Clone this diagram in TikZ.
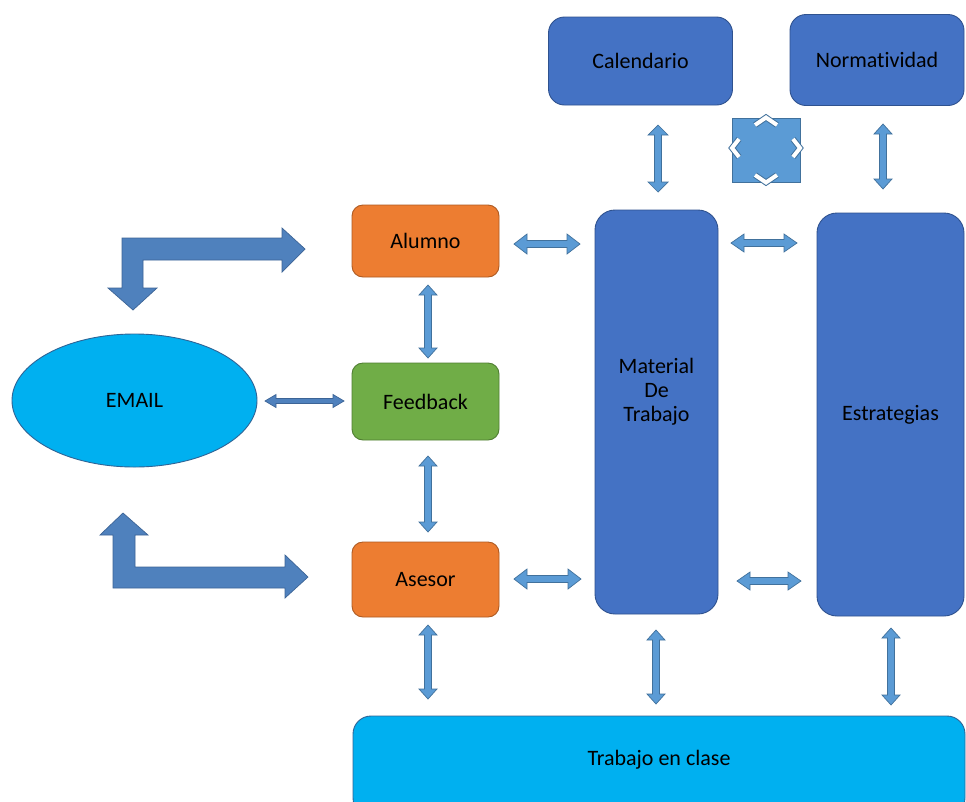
\documentclass[tikz,border=0pt]{standalone}
\usepackage{fontspec}
\setmainfont{Carlito}[Ligatures={NoCommon}]
\usetikzlibrary{calc,shapes.geometric}
\definecolor{dkblue}{RGB}{68,114,196}
\definecolor{dkblueline}{RGB}{47,82,143}
\definecolor{orng}{RGB}{237,125,49}
\definecolor{orngline}{RGB}{174,90,33}
\definecolor{grn}{RGB}{112,173,71}
\definecolor{grnline}{RGB}{80,126,50}
\definecolor{ltblue}{RGB}{0,176,240}
\definecolor{ltblueline}{RGB}{47,100,150}
\definecolor{arrfill}{RGB}{91,155,213}
\definecolor{arrline}{RGB}{65,113,156}
\definecolor{bentfill}{RGB}{79,129,189}
\definecolor{bentline}{RGB}{60,100,150}
\tikzset{
  box/.style={rectangle, rounded corners=#1, line width=0.9pt, inner sep=0pt, font=\fontsize{22}{25}\selectfont, text=black},
  dbox/.style={box=16pt, fill=dkblue, draw=dkblueline},
  obox/.style={box=11pt, fill=orng, draw=orngline},
  gbox/.style={box=11pt, fill=grn, draw=grnline},
  lbox/.style={box=18pt, fill=ltblue, draw=ltblueline},
  dblarrow/.style={fill=arrfill, draw=arrline, line width=0.7pt, line join=miter},
  darkarrow/.style={fill=bentfill, draw=bentline},
  bent/.style={fill=bentfill, draw=bentline, line width=0.7pt, line join=miter},
  lbl/.style={font=\fontsize{22}{24}\selectfont, text=black, align=center, inner sep=0pt}
}
% horizontal block double arrow: [style]{from}{to}{head length}{head half}{shaft half}
\newcommand{\harr}[6][]{\draw[dblarrow,#1] let \p1=(#2), \p2=(#3) in
  (\x1,\y1) -- (\x1+#4pt,\y1+#5pt) -- (\x1+#4pt,\y1+#6pt) -- (\x2-#4pt,\y2+#6pt) -- (\x2-#4pt,\y2+#5pt) -- (\x2,\y2)
  -- (\x2-#4pt,\y2-#5pt) -- (\x2-#4pt,\y2-#6pt) -- (\x1+#4pt,\y1-#6pt) -- (\x1+#4pt,\y1-#5pt) -- cycle;}
% vertical block double arrow (from = top, to = bottom)
\newcommand{\varr}[6][]{\draw[dblarrow,#1] let \p1=(#2), \p2=(#3) in
  (\x1,\y1) -- (\x1+#5pt,\y1-#4pt) -- (\x1+#6pt,\y1-#4pt) -- (\x2+#6pt,\y2+#4pt) -- (\x2+#5pt,\y2+#4pt) -- (\x2,\y2)
  -- (\x2-#5pt,\y2+#4pt) -- (\x2-#6pt,\y2+#4pt) -- (\x1-#6pt,\y1-#4pt) -- (\x1-#5pt,\y1-#4pt) -- cycle;}
\begin{document}
\begin{tikzpicture}[x=1pt,y=-1pt]
\useasboundingbox (0,0) rectangle (966,801);
\clip (0,0) rectangle (966,801);
\fill[white] (0,0) rectangle (966,801);

% nodes
\node[dbox, minimum width=184pt, minimum height=88pt] (cal) at (640.5,61) {Calendario};
\node[dbox, minimum width=174pt, minimum height=91pt] (norm) at (877,60) {Normatividad};
\node[obox, minimum width=147pt, minimum height=72pt] (alumno) at (425.5,241) {Alumno};
\node[gbox, minimum width=147pt, minimum height=77pt] (feedback) at (425.5,401.5) {Feedback};
\node[obox, minimum width=147pt, minimum height=75pt] (asesor) at (425.5,579.5) {Asesor};
\node[dbox, box=20pt, fill=dkblue, draw=dkblueline, minimum width=123pt, minimum height=404pt] (material) at (656.5,412) {};
\node[lbl] (matlbl) at (656.5,392) {Material\\De\\Trabajo};
\node[dbox, box=20pt, fill=dkblue, draw=dkblueline, minimum width=147pt, minimum height=403pt] (estr) at (890.5,414.5) {Estrategias};
\node[lbox, minimum width=612pt, minimum height=100pt] (trabajo) at (659,766) {};
\node[lbl] (trablbl) at (659,760) {Trabajo en clase};
\node[ellipse, fill=ltblue, draw=ltblueline, line width=0.9pt, minimum width=245pt, minimum height=133pt, inner sep=0pt, font=\fontsize{22}{25}\selectfont] (email) at (134.5,400.5) {EMAIL};

% four-way icon
\node[rectangle, fill=arrfill, draw=arrline, line width=0.9pt, minimum width=68pt, minimum height=64pt, inner sep=0pt] (quad) at (766,150) {};
\foreach \pts in {{(755,125)--(766,117.5)--(777,125)},{(755,175)--(766,182.5)--(777,175)},{(739,139)--(732,148)--(739,157)},{(793,139)--(800,148)--(793,157)}}{
  \draw[arrline, line width=6pt, line join=miter] \pts;
  \draw[white, line width=4pt, line join=miter] \pts;
}

% bent arrows
\draw[bent] (122,288) -- (108,288) -- (133,310) -- (157,288) -- (143,288) -- (143,260) -- (282,260) -- (282,272) -- (305,249) -- (282,228) -- (282,238) -- (122,238) -- cycle;
\draw[bent] (113,588) -- (113,535) -- (100,535) -- (123,513) -- (148,535) -- (135,535) -- (135,567) -- (285,567) -- (285,555) -- (308,577) -- (285,598) -- (285,588) -- cycle;

% arrow end coordinates
\coordinate (h1a) at (514,244); \coordinate (h1b) at (580,244);
\coordinate (h2a) at (265,401); \coordinate (h2b) at (344,401);
\coordinate (h3a) at (514,579); \coordinate (h3b) at (581,579);
\coordinate (h4a) at (731,243); \coordinate (h4b) at (797,243);
\coordinate (h5a) at (737,581); \coordinate (h5b) at (801,581);
\coordinate (v1a) at (658,125); \coordinate (v1b) at (658,192);
\coordinate (v2a) at (883,124); \coordinate (v2b) at (883,189);
\coordinate (v3a) at (428,285); \coordinate (v3b) at (428,358);
\coordinate (v4a) at (428,456); \coordinate (v4b) at (428,532);
\coordinate (v5a) at (428,625); \coordinate (v5b) at (428,699);
\coordinate (v6a) at (656,630); \coordinate (v6b) at (656,704);
\coordinate (v7a) at (891,628); \coordinate (v7b) at (891,705);

\harr{h1a}{h1b}{13}{10}{3.5}
\harr[darkarrow]{h2a}{h2b}{11}{6.5}{2.5}
\harr{h3a}{h3b}{13}{10}{3.5}
\harr{h4a}{h4b}{13}{9}{3.5}
\harr{h5a}{h5b}{13}{9}{3.5}
\varr{v1a}{v1b}{10}{10}{3.5}
\varr{v2a}{v2b}{10}{9}{3.5}
\varr{v3a}{v3b}{10}{9}{3.5}
\varr{v4a}{v4b}{10}{9}{3.5}
\varr{v5a}{v5b}{10}{9}{3.5}
\varr{v6a}{v6b}{10}{9}{3.5}
\varr{v7a}{v7b}{10}{9}{3.5}
\end{tikzpicture}
\end{document}
